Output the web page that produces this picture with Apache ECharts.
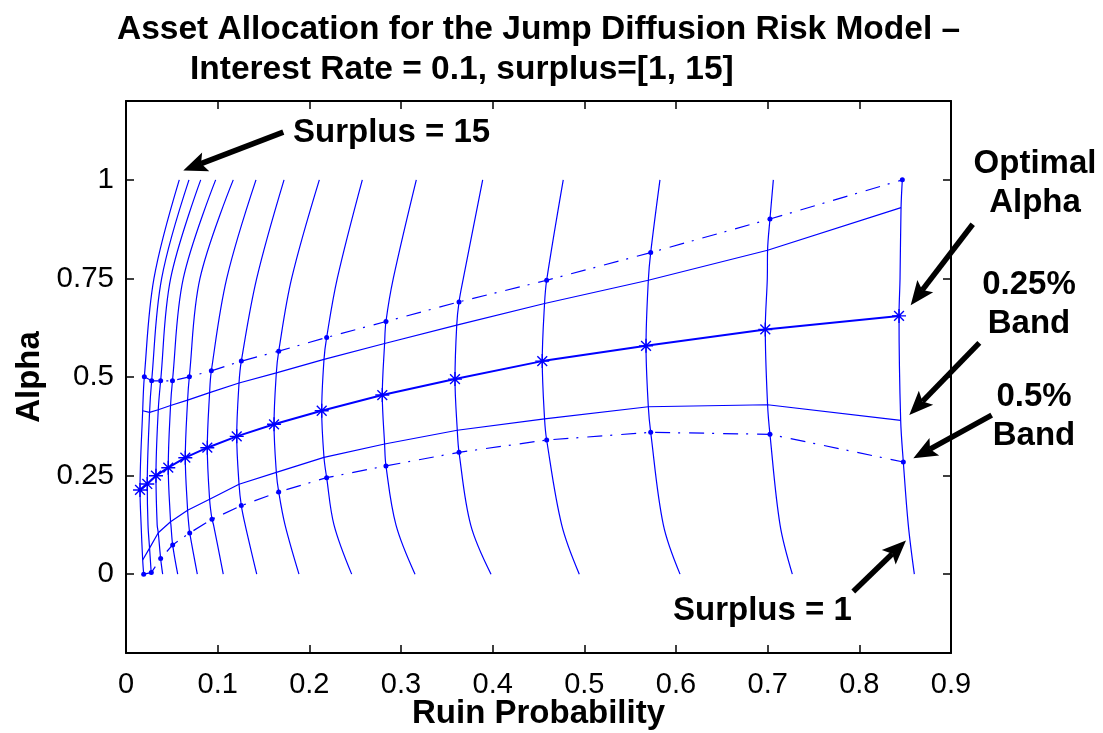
<!DOCTYPE html>
<html>
<head>
<meta charset="utf-8">
<title>Asset Allocation - Jump Diffusion Risk Model</title>
<script src="https://cdn.jsdelivr.net/npm/echarts@6/dist/echarts.min.js"></script>
<style>
  html, body { margin: 0; background: #fff; }
  #chart { width: 1103px; height: 733px; }
</style>
</head>
<body>
<div id="chart"></div>
<script>
// surplus levels, left (15) to right (1)
const surplus = [15, 14, 13, 12, 11, 10, 9, 8, 7, 6, 5, 4, 3, 2, 1]

// ruin probability of each surplus curve at fixed alpha levels
const ruinAlpha0 = [0.0193, 0.0276, 0.0400, 0.0564, 0.0778, 0.1061, 0.1426, 0.1887, 0.2462, 0.3153, 0.3982, 0.4945, 0.6044, 0.7269, 0.8600]
const ruinAlphaLow = [0.0165, 0.0240, 0.0340, 0.0490, 0.0685, 0.0955, 0.1300, 0.1735, 0.2269, 0.2945, 0.3760, 0.4753, 0.5862, 0.7135, 0.8534]
const ruinAlphaHigh = [0.0305, 0.0389, 0.0487, 0.0625, 0.0807, 0.1099, 0.1426, 0.1807, 0.2305, 0.2916, 0.3680, 0.4595, 0.5700, 0.6996, 0.8444]
const ruinAlpha1 = [0.0581, 0.0687, 0.0815, 0.0978, 0.1170, 0.1418, 0.1724, 0.2109, 0.2578, 0.3167, 0.3891, 0.4770, 0.5825, 0.7062, 0.8469]
const alphaLow = 0.125
const alphaHigh = 0.75

// optimal alpha (minimum ruin probability)
const optRuin = [0.0153, 0.0232, 0.0327, 0.0461, 0.0647, 0.0887, 0.1208, 0.1615, 0.2135, 0.2796, 0.3589, 0.4541, 0.5673, 0.6974, 0.8433]
const optAlpha = [0.2135, 0.2287, 0.2497, 0.2700, 0.2953, 0.3207, 0.3495, 0.3800, 0.4144, 0.4542, 0.4947, 0.5403, 0.5790, 0.6206, 0.6550]

// 0.25% band
const band025LoRuin = [0.0182, 0.0257, 0.0352, 0.0486, 0.0672, 0.0912, 0.1233, 0.1640, 0.2160, 0.2821, 0.3614, 0.4566, 0.5698, 0.6999, 0.8451]
const band025LoAlpha = [0.036, 0.066, 0.105, 0.133, 0.162, 0.190, 0.228, 0.258, 0.296, 0.330, 0.365, 0.394, 0.4245, 0.4296, 0.390]
const band025HiRuin = [0.0182, 0.0257, 0.0352, 0.0486, 0.0672, 0.0912, 0.1233, 0.1640, 0.2160, 0.2821, 0.3608, 0.4566, 0.5698, 0.6999, 0.8455]
const band025HiAlpha = [0.4144, 0.4103, 0.4170, 0.4276, 0.4415, 0.4602, 0.4848, 0.5106, 0.5446, 0.5850, 0.6315, 0.6864, 0.7454, 0.8214, 0.9296]

// 0.5% band
const band05LoRuin = [0.0193, 0.0276, 0.0378, 0.0509, 0.0695, 0.0938, 0.1258, 0.1666, 0.2189, 0.2836, 0.3633, 0.4589, 0.5724, 0.7025, 0.8480]
const band05LoAlpha = [0, 0.004, 0.0395, 0.0742, 0.1046, 0.1393, 0.1738, 0.2085, 0.2447, 0.2745, 0.3090, 0.3402, 0.3597, 0.3546, 0.2845]
const band05HiRuin = [0.0200, 0.0280, 0.0378, 0.0507, 0.0691, 0.0931, 0.1258, 0.1666, 0.2189, 0.2836, 0.3633, 0.4589, 0.5724, 0.7025, 0.8469]
const band05HiAlpha = [0.5005, 0.4904, 0.4904, 0.4904, 0.5005, 0.5157, 0.5403, 0.5656, 0.6003, 0.6408, 0.6905, 0.7454, 0.8156, 0.9007, 1.0]

// axis ticks
const yTicks = [0, 0.25, 0.5, 0.75, 1]

// annotation arrows (data coords): tail -> tip
const arrowTail = [[0.1716, 1.1211], [0.9237, 0.8873], [0.9309, 0.5866], [0.9444, 0.4035], [0.7934, -0.0441]]
const arrowTip = [[0.0625, 1.0240], [0.8560, 0.6821], [0.8545, 0.4035], [0.8589, 0.2938], [0.8509, 0.0851]]

const BLUE = '#0000ff'
const FONT = '"Liberation Sans", Arial, Helvetica, sans-serif'

// asterisk marker like matlab '*'
const asterisk = 'path://M-1,-10L1,-10L1,10L-1,10Z M-10,-1L10,-1L10,1L-10,1Z ' +
  'M-6.3,-7.7L7.7,6.3L6.3,7.7L-7.7,-6.3Z M7.7,-6.3L-6.3,7.7L-7.7,6.3L6.3,-7.7Z'

function zip(xs, ys) {
  return xs.map((x, i) => [x, ys[i]])
}

function curvePoints(i) {
  const pts = [
    [ruinAlpha0[i], 0],
    [ruinAlphaLow[i], alphaLow],
    [band05LoRuin[i], band05LoAlpha[i]],
    [band025LoRuin[i], band025LoAlpha[i]],
    [optRuin[i], optAlpha[i]],
    [band025HiRuin[i], band025HiAlpha[i]],
    [band05HiRuin[i], band05HiAlpha[i]],
    [ruinAlphaHigh[i], alphaHigh],
    [ruinAlpha1[i], 1]
  ].sort((a, b) => a[1] - b[1])
  const out = [pts[0]]
  pts.slice(1).forEach(p => {
    if (p[1] - out[out.length - 1][1] > 0.006) out.push(p)
  })
  return out
}

const curveSeries = surplus.map((s, i) => ({
  name: 'Surplus = ' + s,
  type: 'line',
  data: curvePoints(i),
  smooth: 0.35,
  symbol: 'none',
  silent: true,
  lineStyle: { color: BLUE, width: 1.2 },
  z: 2
}))

const dashDot = [15, 8, 2, 9]

const series = [
  ...curveSeries,
  {
    name: '0.5% band upper',
    type: 'line',
    data: zip(band05HiRuin, band05HiAlpha),
    symbol: 'circle',
    symbolSize: 5,
    itemStyle: { color: BLUE },
    lineStyle: { color: BLUE, width: 1.2, type: dashDot },
    z: 3
  },
  {
    name: '0.5% band lower',
    type: 'line',
    data: zip(band05LoRuin, band05LoAlpha),
    symbol: 'circle',
    symbolSize: 5,
    itemStyle: { color: BLUE },
    lineStyle: { color: BLUE, width: 1.2, type: dashDot },
    z: 3
  },
  {
    name: '0.25% band upper',
    type: 'line',
    data: zip(band025HiRuin, band025HiAlpha),
    symbol: 'none',
    lineStyle: { color: BLUE, width: 1.2 },
    z: 3
  },
  {
    name: '0.25% band lower',
    type: 'line',
    data: zip(band025LoRuin, band025LoAlpha),
    symbol: 'none',
    lineStyle: { color: BLUE, width: 1.2 },
    z: 3
  },
  {
    name: 'Optimal Alpha',
    type: 'line',
    data: zip(optRuin, optAlpha),
    symbol: asterisk,
    symbolSize: 14,
    itemStyle: { color: BLUE },
    lineStyle: { color: BLUE, width: 2 },
    z: 4
  }
]

const axisLine = { show: true, onZero: false, lineStyle: { color: '#000', width: 2 } }
const tick = { show: true, inside: true, length: 8, lineStyle: { color: '#000', width: 1.5 } }
const fmt = v => String(+v.toFixed(2))
const nameStyle = { fontFamily: FONT, fontWeight: 'bold', fontSize: 33, color: '#000' }

const option = {
  backgroundColor: '#fff',
  animation: false,
  title: [
    {
      text: 'Asset Allocation for the Jump Diffusion Risk Model \u2013',
      left: 112,
      top: 8,
      textStyle: { fontFamily: FONT, fontWeight: 'bold', fontSize: 33.5, color: '#000' }
    },
    {
      text: 'Interest Rate = 0.1, surplus=[1, 15]',
      left: 185,
      top: 48,
      textStyle: { fontFamily: FONT, fontWeight: 'bold', fontSize: 33.5, color: '#000' }
    }
  ],
  grid: { left: 126, right: 152, top: 101, bottom: 80, outerBoundsMode: 'none', containLabel: false },
  xAxis: [
    {
      type: 'value',
      position: 'bottom',
      min: 0,
      max: 0.9,
      interval: 0.1,
      axisLine,
      axisTick: tick,
      splitLine: { show: false },
      axisLabel: { color: '#000', fontFamily: FONT, fontSize: 29, margin: 17, formatter: fmt },
      name: 'Ruin Probability',
      nameLocation: 'middle',
      nameGap: 44,
      nameMoveOverlap: false,
      nameTextStyle: nameStyle
    },
    {
      type: 'value',
      position: 'top',
      min: 0,
      max: 0.9,
      interval: 0.1,
      axisLine,
      axisTick: tick,
      splitLine: { show: false },
      axisLabel: { show: false }
    }
  ],
  yAxis: [
    {
      type: 'value',
      position: 'left',
      min: -0.2,
      max: 1.2,
      axisLine,
      axisTick: { ...tick, customValues: yTicks },
      splitLine: { show: false },
      axisLabel: { color: '#000', fontFamily: FONT, fontSize: 29.5, margin: 12, customValues: yTicks, formatter: fmt },
      name: 'Alpha',
      nameLocation: 'middle',
      nameGap: 80,
      nameMoveOverlap: false,
      nameTextStyle: nameStyle
    },
    {
      type: 'value',
      position: 'right',
      min: -0.2,
      max: 1.2,
      axisLine,
      axisTick: { ...tick, customValues: yTicks },
      splitLine: { show: false },
      axisLabel: { show: false }
    }
  ],
  series
}

const chart = echarts.init(document.getElementById('chart'), null, { renderer: 'canvas' })
chart.setOption(option)

// arrows + text annotations
const graphics = []
arrowTip.forEach((tipVal, i) => {
  const [x1, y1] = chart.convertToPixel({ seriesIndex: 0 }, arrowTail[i])
  const [x2, y2] = chart.convertToPixel({ seriesIndex: 0 }, tipVal)
  const len = Math.hypot(x2 - x1, y2 - y1)
  const ux = (x2 - x1) / len
  const uy = (y2 - y1) / len
  const head = 24, half = 10, notch = 5
  const bx = x2 - ux * head, by = y2 - uy * head
  const nx = x2 - ux * (head - notch), ny = y2 - uy * (head - notch)
  graphics.push({
    type: 'line',
    shape: { x1, y1, x2: nx, y2: ny },
    style: { stroke: '#000', lineWidth: 5.5 },
    z: 10
  })
  graphics.push({
    type: 'polygon',
    shape: { points: [[x2, y2], [bx - uy * half, by + ux * half], [nx, ny], [bx + uy * half, by - ux * half]] },
    style: { fill: '#000' },
    z: 10
  })
})

const labels = [
  { text: 'Surplus = 15', x: 293, y: 133, align: 'left' },
  { text: 'Surplus = 1', x: 673, y: 611, align: 'left' },
  { text: 'Optimal\nAlpha', x: 1035, y: 183, align: 'center' },
  { text: '0.25%\nBand', x: 1029, y: 304, align: 'center' },
  { text: '0.5%\nBand', x: 1034, y: 416, align: 'center' }
]
labels.forEach(l => {
  graphics.push({
    type: 'text',
    x: l.x,
    y: l.y,
    style: {
      text: l.text,
      fill: '#000',
      font: 'bold 33px ' + FONT,
      lineHeight: 39,
      align: l.align,
      verticalAlign: 'middle'
    },
    z: 10
  })
})

chart.setOption({ graphic: graphics })
</script>
</body>
</html>
